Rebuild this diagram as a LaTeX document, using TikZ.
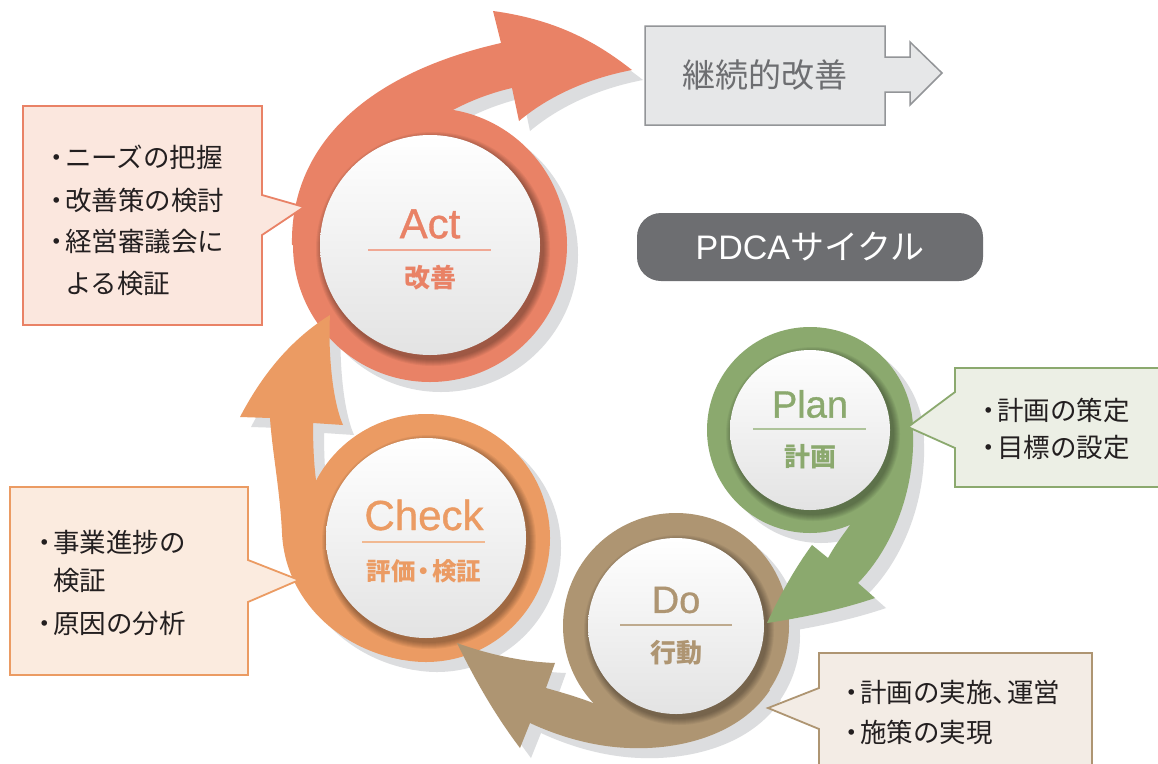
\documentclass[tikz,border=0pt]{standalone}
\usepackage{fontspec}
\setmainfont{Noto Sans CJK JP}
\newfontfamily\latf[FakeBold=0.9]{Liberation Sans}
\newfontfamily\latn{Liberation Sans}
\definecolor{actc}{HTML}{E98266}
\definecolor{chkc}{HTML}{EB9B63}
\definecolor{doc}{HTML}{AE9572}
\definecolor{plnc}{HTML}{8BA96E}
\definecolor{actf}{HTML}{FBE7DE}
\definecolor{chkf}{HTML}{FBEBDF}
\definecolor{dof}{HTML}{F3ECE5}
\definecolor{plnf}{HTML}{ECEFE5}
\definecolor{shc}{HTML}{DCDDDF}
\definecolor{boxf}{HTML}{E6E7E8}
\definecolor{boxd}{HTML}{939598}
\definecolor{greyt}{HTML}{6D6E71}
\definecolor{txtc}{HTML}{231F20}

% ring + arrow shapes (screen coordinates, y downwards)
\newcommand\shapeAct[1]{%
  \fill[#1] (430,245) circle[radius=137];
  \fill[#1] (292,245) .. controls (290,150) and (360,75) .. (501,43)
    -- (493,11) .. controls (560,20) and (600,45) .. (632,70)
    .. controls (590,78) and (550,95) .. (519,121)
    -- (512,88) .. controls (490,93) and (470,101) .. (453,110)
    -- (430,245) -- cycle;}
\newcommand\shapeChk[1]{%
  \fill[#1] (426,538) circle[radius=124];
  \fill[#1] (404,660) .. controls (340,650) and (285,600) .. (282,533)
    .. controls (280,490) and (272,450) .. (270,418)
    -- (240,417) .. controls (262,375) and (290,340) .. (330,315)
    .. controls (328,350) and (332,400) .. (343,425)
    -- (313,423) .. controls (313,445) and (314,465) .. (316,480)
    -- (426,538) -- cycle;}
\newcommand\shapeDo[1]{%
  \fill[#1] (676,626) circle[radius=113];
  \fill[#1] (770,690) .. controls (740,735) and (680,750) .. (630,748)
    .. controls (595,747) and (560,737) .. (530,723)
    -- (520,748) .. controls (495,715) and (475,680) .. (457,643)
    .. controls (490,655) and (525,662) .. (555,663)
    -- (546,688) .. controls (560,692) and (578,697) .. (593,703)
    -- (676,626) -- cycle;}
\newcommand\shapePln[1]{%
  \fill[#1] (810,430) circle[radius=103];
  \fill[#1] (911,412) .. controls (920,470) and (900,540) .. (858,583)
    -- (875,598) .. controls (840,610) and (800,618) .. (767,623)
    .. controls (780,595) and (795,568) .. (812,545)
    -- (828,558) .. controls (835,545) and (843,535) .. (850,525)
    -- (810,430) -- cycle;}
% inner disc with soft shadow: x, y, radius
\newcommand\innerdisc[3]{%
  \foreach \k in {0,...,6}{%
    \fill[black, opacity=0.05, shift={(3,4)}] (#1,#2) circle[radius={#3+7-\k}];}
  \shade[top color=white, bottom color=black!11] (#1,#2) circle[radius=#3];}

\tikzset{
  lbl/.style={inner sep=0pt, font=\latf\fontsize{42}{44}\selectfont},
  jlbl/.style={inner sep=0pt, font=\bfseries\fontsize{26}{28}\selectfont},
  ctext/.style={anchor=west, inner sep=0pt, text=txtc, font=\fontsize{26.5}{30}\selectfont},
  callout/.style={line width=1.8pt, line join=miter},
}
\newcommand\bul{\llap{・\kern-5pt}}

\begin{document}
\begin{tikzpicture}[x=1pt, y=-1pt]
\useasboundingbox (0,0) rectangle (1158,763);
\clip (0,0) rectangle (1158,763);
\fill[white] (0,0) rectangle (1158,763);

% shadows
\shapeAct{shc, shift={(11,10)}}
\shapeChk{shc, shift={(11,10)}}
\shapeDo{shc, shift={(11,10)}}
\shapePln{shc, shift={(11,10)}}

% Act
\shapeAct{actc}
\innerdisc{430}{245}{110}
\node[lbl, text=actc] (actL) at (430,224) {Act};
\draw[actc!70, line width=1.2pt] (368,250) -- (491,250);
\node[jlbl, text=actc] (actJ) at (430,278) {改善};

% Check
\shapeChk{chkc}
\innerdisc{426}{538}{100}
\node[lbl, text=chkc] (chkL) at (424,515) {Check};
\draw[chkc!70, line width=1.2pt] (362,542) -- (485,542);
\node[jlbl, text=chkc, font=\bfseries\fontsize{24.5}{26}\selectfont] (chkJ) at (424,571) {評価\kern-4pt・\kern-4pt検証};

% Do
\shapeDo{doc}
\innerdisc{676}{626}{88}
\node[lbl, text=doc, font=\latf\fontsize{38}{40}\selectfont] (doL) at (676,600) {Do};
\draw[doc!80, line width=1.2pt] (620,625) -- (732,625);
\node[jlbl, text=doc] (doJ) at (676,653) {行動};

% Plan
\shapePln{plnc}
\innerdisc{810}{430}{80}
\node[lbl, text=plnc, font=\latf\fontsize{38}{40}\selectfont] (plL) at (810,404) {Plan};
\draw[plnc!70, line width=1.2pt] (753,429) -- (866,429);
\node[jlbl, text=plnc] (plJ) at (810,457) {計画};

% continuous improvement box
\draw[boxd, fill=boxf, line width=1.5pt] (645,26) -- (885,26) -- (885,57) -- (910,57)
  -- (910,42) -- (942,73) -- (910,105) -- (910,92) -- (885,92) -- (885,125)
  -- (645,125) -- cycle;
\node[inner sep=0pt, text=greyt, font=\fontsize{33}{35}\selectfont] (kaizen) at (765,75) {継続的改善};

% PDCA label
\node[fill=greyt, rounded corners=24pt, minimum width=346pt, minimum height=68pt,
  inner sep=0pt, text=white, font=\fontsize{34}{36}\selectfont] (pdca) at (810,247) {{\latn PDCA}サイクル};

% callouts
\draw[callout, draw=actc, fill=actf] (262,106) -- (262,195) -- (304,207) -- (262,235)
  -- (262,325) -- (23,325) -- (23,106) -- cycle;
\node[ctext] (a1) at (65,157) {\bul ニーズの把握};
\node[ctext] (a2) at (65,200) {\bul 改善策の検討};
\node[ctext] (a3) at (65,242) {\bul 経営審議会に};
\node[ctext] (a4) at (65,283) {よる検証};

\draw[callout, draw=chkc, fill=chkf] (248,487) -- (248,560) -- (299,580) -- (248,602)
  -- (248,675) -- (10,675) -- (10,487) -- cycle;
\node[ctext] (c1) at (53,542) {\bul 事業進捗の};
\node[ctext] (c2) at (53,580) {検証};
\node[ctext] (c3) at (53,623) {\bul 原因の分析};

\draw[callout, draw=doc, fill=dof] (819,653) -- (1092,653) -- (1092,790) -- (819,790)
  -- (819,729) -- (768,708) -- (819,688) -- cycle;
\node[ctext] (d1) at (860,692) {\bul 計画の実施、\kern-12pt 運営};
\node[ctext] (d2) at (860,732) {\bul 施策の実現};

\draw[callout, draw=plnc, fill=plnf] (955,368) -- (1175,368) -- (1175,487) -- (955,487)
  -- (955,448) -- (908,427) -- (955,392) -- cycle;
\node[ctext] (p1) at (997,410) {\bul 計画の策定};
\node[ctext] (p2) at (997,447) {\bul 目標の設定};
\end{tikzpicture}
\end{document}
